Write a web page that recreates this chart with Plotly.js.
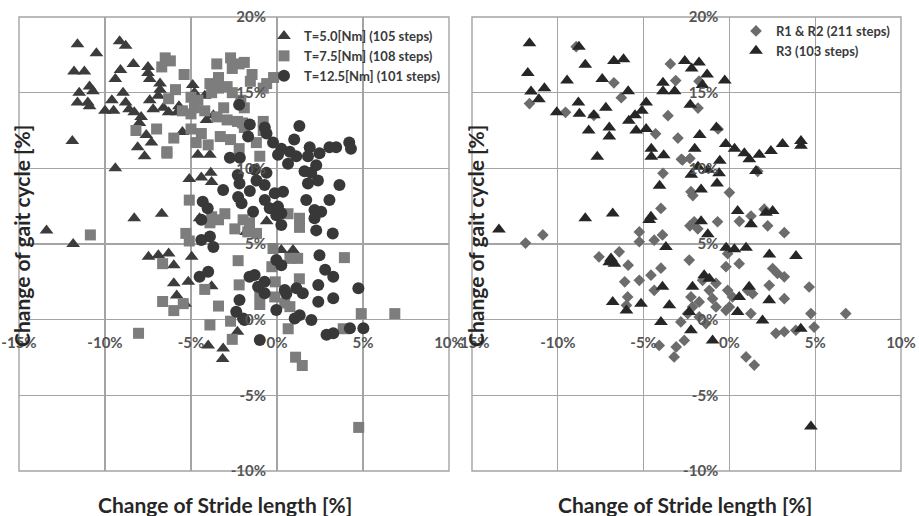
<!DOCTYPE html>
<html>
<head>
<meta charset="utf-8">
<script src="https://cdn.plot.ly/plotly-3.0.1.min.js"></script>
<style>html,body{margin:0;padding:0;background:#fff;}#chart{width:919px;height:516px;}</style>
</head>
<body>
<div id="chart"></div>
<script>
// ---------- DATA ----------
const xTickVals = [-15, -10, -5, 0, 5, 10];
const xTickText = ['-15%', '-10%', '-5%', '0%', '5%', '10%'];
const yTickVals = [-10, -5, 0, 5, 10, 15, 20];
const yTickText = ['-10%', '-5%', '0%', '5%', '10%', '15%', '20%'];

// Left panel: T=5.0[Nm]
const t5x = [-11.6,-10.5,-11.8,-11.2,-9.15,-8.8,-8.35,-9.1,-9.4,-7.5,-7.5,-7.4,-11.5,-10.9,-10.7,-11.6,-11.0,-10.9,-10.0,-9.6,-9.5,-8.95,-8.8,-8.6,-8.3,-7.9,-8.0,-7.4,-7.2,-6.8,-6.8,-6.9,-6.6,-6.3,-5.7,-5.8,-4.9,-4.8,-4.2,-4.1,-3.7,-7.6,-7.3,-8.1,-7.7,-11.9,-9.4,-5.5,-4.6,-3.9,-5.1,-4.4,-3.85,-3.8,-8.3,-6.7,-13.4,-11.85,-7.47,-6.9,-6.3,-6.0,-4.96,-6.0,-5.16,-5.83,-5.35,-4.0,-3.13,-3.16,-4.5,-0.6,-1.8,0.25,0.93,-3.8,-2.3];
const t5y = [18.2,17.6,16.4,16.4,18.4,18.1,16.9,16.5,15.9,16.7,16.3,15.9,15.0,15.4,15.1,14.35,14.35,14.1,13.8,14.5,13.8,15.0,14.35,13.9,13.7,13.4,13.0,14.5,13.9,15.6,15.2,14.8,14.0,13.7,14.1,13.7,15.5,15.0,14.8,13.2,13.5,12.2,11.7,11.4,10.8,11.8,10.0,12.4,10.9,10.9,9.3,9.4,9.7,9.1,6.7,7.0,5.9,5.0,4.15,4.26,4.37,3.6,4.15,2.4,2.5,1.6,1.06,-1.7,-1.9,-2.6,6.7,6.5,5.8,4.6,4.6,2.2,-0.8];

// Left panel: T=7.5[Nm]
const t75x = [-6.5,-6.2,-6.7,-5.4,-3.5,-2.7,-2.2,-1.9,-2.6,-1.45,-1.55,-0.6,-0.8,-3.9,-3.4,-3.4,-3.8,-2.9,-2.6,-5.9,-6.3,-5.0,-4.8,-4.6,-4.2,-5.5,-5.0,-3.1,-1.9,-3.5,-2.9,-2.3,-1.9,-0.8,-0.8,-7.0,-8.2,-6.0,-6.4,-5.0,-4.4,-4.7,-3.3,-2.7,-1.2,-2.2,-1.0,-4.0,-0.2,-2.1,-2.0,-3.03,-1.97,-2.45,0.64,1.31,1.31,-1.19,-0.23,-2.26,3.92,-6.4,-5.1,-3.8,-3.4,-3.9,-1.6,-1.7,-5.3,-5.1,0.75,1.2,-0.3,-6.65,1.3,-0.1,-2.2,-4.2,-3.4,-1.0,-1.0,0.45,-5.45,-6.0,-6.65,0.75,-3.9,-2.7,0.65,4.9,6.85,3.85,-2.6,-8.05,-10.85,-0.13,1.08,1.47,4.75];
const t75y = [17.3,17.1,16.7,16.2,16.9,17.3,16.9,17.0,16.6,16.2,15.75,15.6,15.3,15.6,16.0,15.3,15.0,15.4,15.0,15.2,14.6,14.7,14.0,14.5,13.8,13.8,13.6,14.0,14.0,13.4,13.2,13.1,12.7,13.1,12.5,12.6,12.5,12.0,11.1,12.6,12.3,11.7,12.1,11.9,11.7,11.3,10.8,11.55,16.0,14.5,13.0,7.0,6.6,6.0,7.0,6.7,6.1,5.7,4.7,3.9,4.1,11.0,7.9,6.8,6.6,6.4,6.4,5.8,5.7,5.2,4.05,4.05,3.5,3.7,2.7,2.5,2.3,2.0,0.9,1.7,1.0,1.1,1.06,0.6,1.2,0.86,-0.35,-0.1,-0.6,0.4,0.4,-0.6,-1.3,-0.9,5.6,1.5,-2.48,-3.03,-7.12];

// Left panel: T=12.5[Nm]
const t125x = [-2.2,1.3,1.0,-1.58,-1.68,-0.71,-0.61,-0.23,0.25,0.74,1.12,1.9,2.47,3.05,3.44,4.2,4.3,0.06,0.64,1.8,2.28,1.6,1.99,2.38,1.8,-2.74,-2.16,-1.29,-0.61,-1.19,-3.13,-2.26,-1.58,-2.06,-0.71,-0.13,0.35,-0.42,0.06,0.25,-1.39,1.7,3.05,3.63,2.18,2.57,2.18,2.28,3.24,2.47,0.25,-2.28,-2.18,-0.72,-0.04,-4.32,-4.03,-4.4,-4.4,-3.9,-3.7,-0.04,0.25,2.8,3.27,-4.5,-4.0,-1.6,-1.3,-0.72,-1.1,0.45,1.13,1.5,-2.18,-0.72,2.4,3.27,2.4,4.73,-2.37,-1.89,-0.04,1.32,2.0,-1.0,2.88,3.27,4.24,5.02,1.03,-1.97,0.54];
const t125y = [14.2,12.8,11.9,12.9,12.1,12.7,12.3,11.7,11.3,11.1,10.8,11.4,11.0,11.4,11.4,11.7,11.3,10.9,10.3,10.8,10.2,9.8,9.7,9.2,9.0,10.7,10.7,9.9,9.7,9.2,8.57,8.1,8.5,7.7,7.9,8.35,8.46,7.36,7.47,7.03,7.13,7.9,7.9,8.9,7.25,7.13,6.7,5.9,5.7,4.26,6.25,9.56,9.0,8.9,6.9,7.8,7.36,6.6,5.26,5.5,4.8,3.94,3.6,3.3,2.84,2.84,3.17,2.84,2.95,2.5,2.18,1.96,2.07,1.74,1.3,1.74,2.29,1.41,1.19,2.07,0.53,-0.02,0.64,0.3,-0.02,-1.34,-1.0,-0.9,-0.57,-0.57,0.07,0.07,1.72];

// Right panel: R1 & R2
const r12x = [-8.93,-11.65,-9.55,-6.73,-6.3,-7.9,-3.44,-3.13,-1.77,-1.83,-3.58,-4.3,-3.0,-2.8,-2.3,-3.87,-0.66,1.65,-2.13,0.0,0.58,1.26,2.03,2.23,3.2,-2.3,-1.84,-3.99,-0.69,-5.25,-5.25,-4.38,-3.9,-6.42,-5.9,-7.6,-2.34,-3.99,-4.57,-6.1,-5.25,-4.38,-0.2,-0.1,0.57,-1.56,-0.78,-1.17,-5.93,-6.0,-2.24,-2.15,-1.76,-0.98,-0.78,-0.1,0.18,1.06,1.35,2.32,3.2,2.52,2.8,3.2,4.65,4.75,4.94,6.78,-0.2,0.0,1.25,-2.83,-2.43,-1.76,-1.37,2.71,3.2,3.87,-4.09,-3.1,-2.63,-11.88,-10.87,-3.22,0.97,1.45,-2.05,-2.73,-2.24];
const r12y = [18.04,14.28,13.7,15.65,14.67,13.5,16.9,15.8,15.76,13.98,13.48,12.28,12.0,10.6,10.65,9.67,12.6,9.8,8.2,8.4,6.5,6.85,7.3,6.2,5.75,6.2,6.0,7.35,6.47,5.8,5.15,5.25,5.6,4.48,3.6,4.15,3.94,3.4,2.94,2.5,2.6,1.94,3.5,4.36,3.7,2.6,2.4,1.94,1.5,0.95,1.5,0.84,1.17,1.39,0.84,1.94,1.5,1.94,1.72,2.27,1.39,3.38,3.05,2.83,2.16,0.4,-0.49,0.4,0.62,0.84,0.4,-0.15,0.4,0.18,-0.26,-0.9,-0.8,-0.7,-1.7,-1.8,-1.37,5.06,5.6,-2.46,-2.46,-3.0,6.47,10.55,8.46];

// Right panel: R3
const r3x = [-11.65,-8.77,-11.75,-8.4,-6.73,-6.17,-9.46,-7.41,-11.56,-10.78,-11.1,-5.9,-10.06,-8.8,-8.74,-7.2,-7.9,-8.2,-7.0,-7.0,-7.7,-5.86,-5.5,-5.1,-4.85,-5.43,-4.85,-3.87,-3.87,-3.19,-2.6,-2.2,-1.77,-1.3,-1.57,-0.27,-2.28,-0.76,-1.73,-0.21,0.3,-4.55,-4.55,-3.83,-2.02,-2.22,-1.83,-0.56,-0.6,-0.72,-1.25,-4.07,0.87,1.16,1.74,2.42,3.1,4.17,4.17,1.55,-1.65,0.48,1.26,2.13,2.52,-1.65,-1.26,-0.19,0.29,0.97,2.33,3.88,-4.57,-4.67,-6.8,-3.7,-6.9,-7.0,-6.7,-1.47,-1.17,-3.9,-2.15,-6.8,-6.0,-5.15,-3.5,1.15,0.57,2.32,0.48,-3.99,-2.24,1.93,-2.34,4.16,-0.98,-13.43,-8.4,4.75];
const r3y = [18.26,18.04,16.3,16.85,17.1,17.2,15.8,15.9,15.07,15.3,14.57,15.1,13.7,14.35,13.6,14.0,13.5,12.5,12.7,12.1,10.76,13.15,13.5,13.8,14.35,12.5,12.6,15.65,15.1,15.1,17.1,16.6,17.0,16.2,15.5,15.8,14.2,12.7,12.2,11.6,11.3,11.3,10.76,10.87,11.3,9.57,10.1,10.5,9.67,9.0,9.9,8.85,11.0,10.6,10.9,11.15,11.6,11.8,11.5,9.83,8.6,7.18,6.3,7.07,7.18,6.5,5.64,4.76,4.65,4.76,4.3,4.2,6.8,6.58,7.02,4.8,4.04,3.8,3.7,2.94,2.7,2.17,2.17,1.17,0.6,1.06,0.95,2.17,1.5,1.28,0.5,-0.15,-0.7,-0.05,0.5,-0.6,-1.37,5.95,6.7,-7.06];

// ---------- LAYOUT HELPERS ----------
const W = 919, H = 516, ML = 19, MR = 18, MT = 17, MB = 45;
const PW = W - ML - MR, PH = H - MT - MB;
const px2x = px => (px - ML) / PW;
const px2y = py => (H - MB - py) / PH;

const grid = '#a4a4a4';
const tickFont = {family: 'Lato, "DejaVu Sans", sans-serif', size: 15, color: '#555555', weight: 'bold'};
const titleFont = {family: 'Lato, "DejaVu Sans", sans-serif', size: 21, color: '#262626', weight: 'bold'};
const legFont = {family: 'Lato, "DejaVu Sans", sans-serif', size: 13, color: '#3a3a3a', weight: 'bold'};

const leftDom = [0, px2x(449)];
const rightDom = [px2x(472), 1];
const zeroFracX = 15 / 25;   // position of x=0 inside the x range
const zeroFracY = 10 / 30;   // position of y=0 inside the y range

function xAx(dom) {
  return {
    domain: dom, range: [-15, 10], anchor: 'free', position: zeroFracY,
    tickvals: xTickVals, ticktext: xTickText, ticks: '', ticklabelstandoff: 12,
    showgrid: true, gridcolor: grid, gridwidth: 1.4,
    zeroline: true, zerolinecolor: grid, zerolinewidth: 1.4,
    showline: false, tickfont: tickFont, fixedrange: true
  };
}
function yAx(pos) {
  return {
    domain: [0, 1], range: [-10, 20], anchor: 'free', position: pos,
    tickvals: yTickVals, ticktext: yTickText, ticks: '', ticklabelstandoff: 11,
    showgrid: true, gridcolor: grid, gridwidth: 1.4,
    zeroline: true, zerolinecolor: grid, zerolinewidth: 1.4,
    showline: false, tickfont: tickFont, fixedrange: true
  };
}

const traces = [
  {x: t5x, y: t5y, xaxis: 'x', yaxis: 'y', type: 'scatter', mode: 'markers', name: 'T=5.0[Nm] (105 steps)', legend: 'legend',
   marker: {symbol: 'triangle-up', size: 12, color: '#3c3c3c', line: {width: 0}}},
  {x: t75x, y: t75y, xaxis: 'x', yaxis: 'y', type: 'scatter', mode: 'markers', name: 'T=7.5[Nm] (108 steps)', legend: 'legend',
   marker: {symbol: 'square', size: 11, color: '#7d7d7d', line: {width: 0}}},
  {x: t125x, y: t125y, xaxis: 'x', yaxis: 'y', type: 'scatter', mode: 'markers', name: 'T=12.5[Nm] (101 steps)', legend: 'legend',
   marker: {symbol: 'circle', size: 12, color: '#383838', line: {width: 0}}},
  {x: r12x, y: r12y, xaxis: 'x2', yaxis: 'y2', type: 'scatter', mode: 'markers', name: 'R1 &amp; R2 (211 steps)', legend: 'legend2',
   marker: {symbol: 'diamond', size: 9, color: '#6c6c6c', line: {width: 0}}},
  {x: r3x, y: r3y, xaxis: 'x2', yaxis: 'y2', type: 'scatter', mode: 'markers', name: 'R3 (103 steps)', legend: 'legend2',
   marker: {symbol: 'triangle-up', size: 12, color: '#262626', line: {width: 0}}}
];

const layout = {
  width: W, height: H,
  margin: {l: ML, r: MR, t: MT, b: MB, pad: 0},
  paper_bgcolor: '#ffffff', plot_bgcolor: '#ffffff',
  showlegend: true,
  xaxis: xAx(leftDom),
  yaxis: yAx(leftDom[0] + (leftDom[1] - leftDom[0]) * zeroFracX),
  xaxis2: xAx(rightDom),
  yaxis2: yAx(rightDom[0] + (rightDom[1] - rightDom[0]) * zeroFracX),
  legend: {x: px2x(264), y: px2y(21), xanchor: 'left', yanchor: 'top', bgcolor: 'rgba(0,0,0,0)',
           font: legFont, tracegroupgap: 0, itemclick: false, itemdoubleclick: false},
  legend2: {x: px2x(736), y: px2y(16), xanchor: 'left', yanchor: 'top', bgcolor: 'rgba(0,0,0,0)',
            font: legFont, tracegroupgap: 0, itemclick: false, itemdoubleclick: false},
  shapes: [
    {type: 'rect', xref: 'x domain', yref: 'y domain', x0: 0, x1: 1, y0: 0, y1: 1, line: {color: grid, width: 1.4}, layer: 'below'},
    {type: 'rect', xref: 'x2 domain', yref: 'y2 domain', x0: 0, x1: 1, y0: 0, y1: 1, line: {color: grid, width: 1.4}, layer: 'below'}
  ],
  annotations: [
    {text: 'Change of Stride length [%]', xref: 'paper', yref: 'paper', x: px2x(225), y: px2y(505), showarrow: false,
     xanchor: 'center', yanchor: 'middle', font: titleFont},
    {text: 'Change of Stride length [%]', xref: 'paper', yref: 'paper', x: px2x(685), y: px2y(505), showarrow: false,
     xanchor: 'center', yanchor: 'middle', font: titleFont},
    {text: 'Change of gait cycle [%]', xref: 'paper', yref: 'paper', x: px2x(21), y: px2y(236), showarrow: false,
     xanchor: 'center', yanchor: 'middle', textangle: -90, font: titleFont},
    {text: 'Change of gait cycle [%]', xref: 'paper', yref: 'paper', x: px2x(475), y: px2y(236), showarrow: false,
     xanchor: 'center', yanchor: 'middle', textangle: -90, font: titleFont}
  ]
};

Plotly.newPlot('chart', traces, layout, {displayModeBar: false, staticPlot: true});
</script>
</body>
</html>
